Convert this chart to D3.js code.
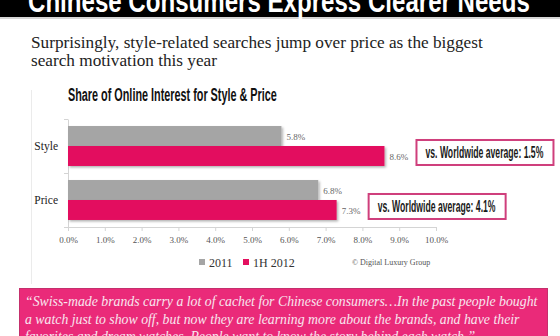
<!DOCTYPE html>
<html>
<head>
<meta charset="utf-8">
<script src="https://cdn.jsdelivr.net/npm/d3@7/dist/d3.min.js"></script>
<style>
  html, body { margin: 0; padding: 0; background: #fff; }
  svg { display: block; }
</style>
</head>
<body>
<svg id="chart" width="560" height="336"></svg>
<script>
// ---- data ----
const categories = ["Style", "Price"];
const seriesNames = ["2011", "1H 2012"];
const values2011 = [5.8, 6.8];
const values1H2012 = [8.6, 7.3];
const xTicks = [0, 1, 2, 3, 4, 5, 6, 7, 8, 9, 10];
const callouts = ["vs. Worldwide average: 1.5%", "vs. Worldwide average: 4.1%"];
const headline = "Chinese Consumers Express Clearer Needs";
const subtitleLines = [
  "Surprisingly, style-related searches jump over price as the biggest",
  "search motivation this year"
];
const chartTitle = "Share of Online Interest for Style & Price";
const credit = "\u00A9 Digital Luxury Group";
const quoteLines = [
  "\u201CSwiss-made brands carry a lot of cachet for Chinese consumers\u2026In the past people bought",
  "a watch just to show off, but now they are learning more about the brands, and have their",
  "favorites and dream watches. People want to know the story behind each watch.\u201D"
];

const GRAY = "#a5a5a5";
const PINK = "#e3105f";
const serif = "'Liberation Serif', 'DejaVu Serif', serif";
const sans = "'Liberation Sans', Arial, sans-serif";

const svg = d3.select("#chart");

// soft drop shadow under the bars
const defs = svg.append("defs");
const f = defs.append("filter").attr("id", "shadow")
  .attr("x", "-5%").attr("y", "-20%").attr("width", "110%").attr("height", "150%");
f.append("feDropShadow").attr("dx", 1.5).attr("dy", 1.5)
  .attr("stdDeviation", 0.8).attr("flood-color", "#000").attr("flood-opacity", 0.3);

// scale a text element's font size so it spans the given width
function fitFont(sel, width) {
  const w = sel.node().getComputedTextLength();
  const fs = parseFloat(sel.attr("font-size"));
  return fs * width / w;
}

// condensed headline text: draw at origin, then squeeze horizontally to a width
function condensed(parent, txt, x0, y0, size, width, fill) {
  const t = parent.append("text")
    .attr("font-family", sans).attr("font-weight", 700).attr("font-size", size)
    .attr("fill", fill).text(txt);
  const w = t.node().getComputedTextLength();
  t.attr("transform", `translate(${x0},${y0}) scale(${width / w},1)`);
  return t;
}

// ---- header band ----
svg.append("rect").attr("x", 0).attr("y", 0).attr("width", 560).attr("height", 17).attr("fill", "#000");
svg.append("rect").attr("x", 0).attr("y", 17).attr("width", 560).attr("height", 2).attr("fill", "#d6d6d6");
condensed(svg, headline, 28, 12, 32, 502, "#fff");

// ---- subtitle ----
const sub = svg.append("g");
const sub1 = sub.append("text").attr("font-family", serif).attr("font-size", 17)
  .attr("x", 31).attr("y", 48).attr("fill", "#222").text(subtitleLines[0]);
const subSize = fitFont(sub1, 452);
sub1.attr("font-size", subSize);
sub.append("text").attr("font-family", serif).attr("font-size", subSize)
  .attr("x", 31).attr("y", 66).attr("fill", "#222").text(subtitleLines[1]);

// ---- chart title ----
condensed(svg, chartTitle, 68, 101, 19, 209, "#111");

// faint frame line at the left of the chart panel
svg.append("line").attr("x1", 31.5).attr("x2", 31.5).attr("y1", 90).attr("y2", 284)
  .attr("stroke", "#ebebeb");

// ---- scales ----
const x = d3.scaleLinear().domain([0, 10]).range([68, 436]);
const y = d3.scaleBand().domain(categories).range([119, 227])
  .paddingInner(0.26).paddingOuter(0.13);
const sub2 = d3.scaleBand().domain(seriesNames).range([0, y.bandwidth()]);

const rows = categories.map((c, i) => ({
  cat: c,
  vals: [
    { s: seriesNames[0], v: values2011[i], color: GRAY },
    { s: seriesNames[1], v: values1H2012[i], color: PINK }
  ],
  callout: callouts[i]
}));

// ---- axes ----
const xAxis = d3.axisBottom(x).tickValues(xTicks).tickSize(4).tickSizeOuter(0)
  .tickFormat(d => d.toFixed(1) + "%");
const gx = svg.append("g").attr("transform", "translate(0,227)").call(xAxis);
gx.select(".domain").attr("stroke", "#d4d4d4");
gx.selectAll(".tick line").attr("stroke", "#d4d4d4");
gx.selectAll(".tick text").attr("font-family", serif).attr("font-size", 9)
  .attr("fill", "#555").attr("dy", null).attr("y", 16);

const yAxis = d3.axisLeft(y).tickSize(0).tickSizeOuter(0).tickPadding(10);
const gy = svg.append("g").attr("transform", "translate(68,0)").call(yAxis);
gy.select(".domain").attr("stroke", "#d4d4d4");
gy.selectAll(".tick text").attr("font-family", serif).attr("font-size", 11.5)
  .attr("fill", "#222").attr("dy", "0.35em");
// small boundary ticks between categories
const bounds = [y.range()[0], (y("Style") + y.bandwidth() + y("Price")) / 2, y.range()[1]];
svg.append("g").selectAll("line").data(bounds).join("line")
  .attr("x1", 64).attr("x2", 68).attr("y1", d => d + 0.5).attr("y2", d => d + 0.5)
  .attr("stroke", "#d4d4d4");

// ---- bars ----
const groups = svg.append("g").selectAll("g").data(rows).join("g")
  .attr("transform", d => `translate(0,${y(d.cat)})`);

groups.selectAll("rect").data(d => d.vals).join("rect")
  .attr("x", x(0)).attr("y", d => sub2(d.s))
  .attr("width", d => x(d.v) - x(0)).attr("height", sub2.bandwidth())
  .attr("fill", d => d.color).attr("filter", "url(#shadow)");

groups.selectAll("text.val").data(d => d.vals).join("text")
  .attr("class", "val")
  .attr("x", d => x(d.v) + 5).attr("y", d => sub2(d.s) + sub2.bandwidth() / 2 + 4)
  .attr("font-family", serif).attr("font-size", 9).attr("fill", "#666")
  .text(d => d.v.toFixed(1) + "%");

// ---- callout boxes ----
groups.each(function (d) {
  const g = d3.select(this);
  const top = d.vals[1];
  const cx = x(top.v) + 32;
  const cy = sub2(top.s) + sub2.bandwidth() / 2 - 3.5;
  g.append("rect")
    .attr("x", cx).attr("y", cy - 12.5).attr("width", 137).attr("height", 25)
    .attr("fill", "#fff").attr("stroke", "#cf3f7c").attr("stroke-width", 2);
  condensed(g, d.callout, cx + 9, cy + 6, 16, 118, "#1a1a1a");
});

// ---- legend ----
const legendItems = [
  { name: seriesNames[0], color: GRAY, x: 199 },
  { name: seriesNames[1], color: PINK, x: 243 }
];
const lg = svg.append("g").selectAll("g").data(legendItems).join("g")
  .attr("transform", d => `translate(${d.x},259)`);
lg.append("rect").attr("width", 6).attr("height", 6).attr("fill", d => d.color);
lg.append("text").attr("x", 10).attr("y", 7.5)
  .attr("font-family", serif).attr("font-size", 12).attr("fill", "#333")
  .text(d => d.name);

svg.append("text").attr("x", 352).attr("y", 265)
  .attr("font-family", serif).attr("font-size", 8).attr("fill", "#555")
  .text(credit);

// ---- quote panel ----
svg.append("rect").attr("x", 19.5).attr("y", 288.5).attr("width", 528).attr("height", 60)
  .attr("fill", "#ea2a79").attr("stroke", "#c4306c").attr("stroke-width", 1);
const q = svg.append("g");
const q1 = q.append("text").attr("font-family", serif).attr("font-style", "italic")
  .attr("font-size", 15).attr("fill", "#f8e6ef").attr("x", 25).attr("y", 306)
  .text(quoteLines[0]);
const qSize = fitFont(q1, 513);
q1.attr("font-size", qSize);
quoteLines.slice(1).forEach((t, i) => {
  q.append("text").attr("font-family", serif).attr("font-style", "italic")
    .attr("font-size", qSize).attr("fill", "#f8e6ef")
    .attr("x", 25).attr("y", 306 + (i + 1) * 17.5).text(t);
});
</script>
</body>
</html>
